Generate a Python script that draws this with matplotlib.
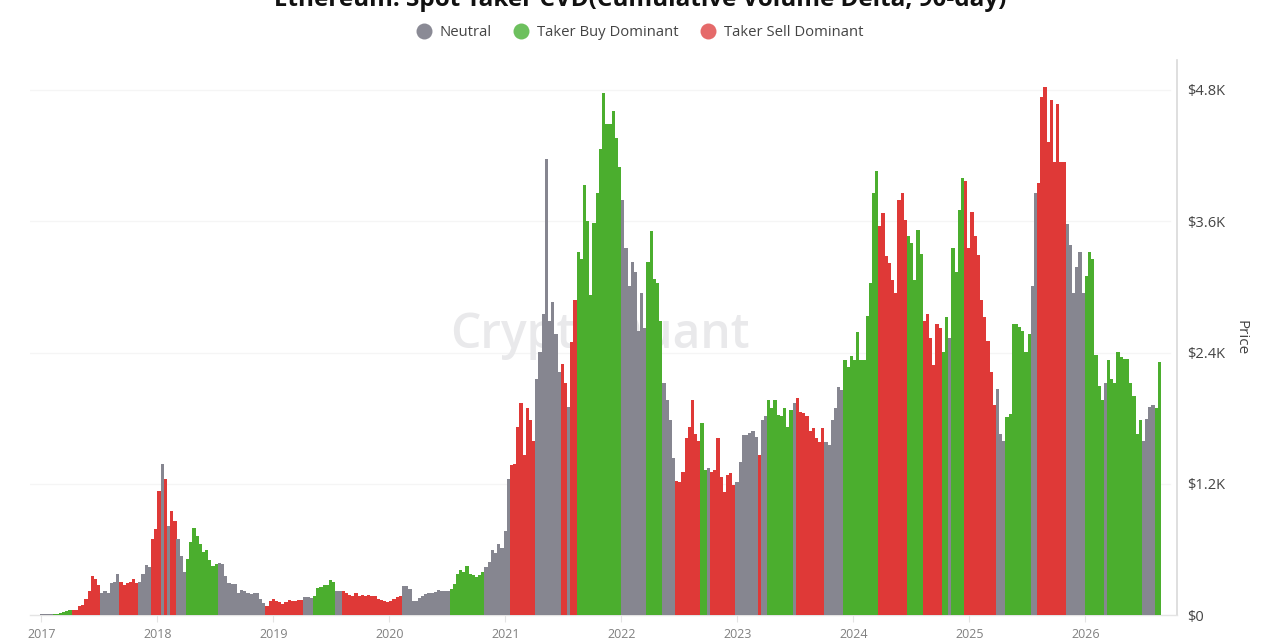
import matplotlib
matplotlib.use("Agg")
import matplotlib.pyplot as plt
from matplotlib.lines import Line2D
import numpy as np

plt.rcParams['font.family'] = ['Open Sans', 'DejaVu Sans']

TITLE = "Ethereum: Spot Taker CVD(Cumulative Volume Delta, 90-day)"
START_YEAR = 2017.0
STEP_DAYS = 10

prices = [
    8, 8, 9, 10, 11, 12, 15, 25, 40, 48, 45, 50, 85, 90, 145, 220, 360, 330, 270, 200,
    215, 200, 290, 300, 375, 305, 275, 295, 300, 325, 295, 300, 375, 460, 435, 695, 785, 1130, 1380, 1245,
    815, 955, 860, 695, 540, 390, 510, 665, 800, 725, 650, 575, 590, 500, 450, 465, 480, 465, 360, 295,
    285, 280, 200, 230, 220, 200, 190, 200, 205, 145, 110, 85, 130, 145, 125, 115, 100, 115, 135, 130,
    130, 135, 135, 165, 165, 155, 175, 250, 260, 270, 275, 320, 300, 220, 215, 220, 200, 185, 175, 205,
    175, 185, 175, 180, 175, 175, 145, 140, 125, 120, 130, 150, 165, 175, 265, 265, 240, 130, 130,
    157, 173, 189, 198, 198, 211, 230, 223, 223, 223, 242, 283, 378, 409, 393, 450, 378, 368, 346, 368,
    393, 440, 488, 598, 566, 645, 614, 771, 1243, 1369, 1385, 1715, 1936, 1464, 1889, 1779, 1590, 2156, 2408, 2755,
    4170, 2690, 2865, 2565, 2220, 2298, 2125, 1905, 2500, 2880, 3320, 3258, 3935, 3604, 2927, 3588, 3856, 4265, 4770, 4486,
    4486, 4612, 4360, 4092, 3793, 3352, 3006, 3226, 3132, 2597, 2943, 2628, 3226, 3510, 3069, 3037, 2691, 2125, 1967, 1779,
    1432, 1228, 1212, 1306, 1621, 1715, 1967, 1652, 1590,
    1754, 1327, 1342, 1311, 1327, 1616, 1266, 1128, 1281, 1296, 1190, 1220, 1403, 1647, 1647, 1662, 1678, 1632, 1464, 1784,
    1815, 1967, 1891, 1967, 1830, 1815, 1891, 1723, 1876, 1937, 1983, 1860, 1845, 1815, 1678, 1708, 1616, 1586, 1708, 1586,
    1555, 1784, 1891, 2089, 2059, 2333, 2272, 2364, 2333, 2592, 2333, 2333, 2730, 3035, 3858, 4056, 3553, 3675, 3279, 3218,
    3065, 2943, 3797, 3858, 3614, 3462, 3401, 3065, 3523,
    3305, 2692, 2755, 2534, 2282, 2660, 2628, 2408, 2723, 2534, 3353, 3132, 3699, 3998, 3967, 3353, 3683, 3463, 3290, 2880,
    2723, 2503, 2219, 1920, 2062, 1653, 1590, 1810, 1842, 2660, 2660, 2629, 2597, 2408, 2566, 3006, 3856, 3950, 4738, 4832,
    4328, 4706, 4140, 4675, 4140, 4140, 3573, 3384, 2943, 3179, 3321, 2943, 3100, 3321, 3258, 2377, 2093, 1968, 2125, 2330,
    2156, 2125, 2408, 2361, 2345, 2345, 2125, 1999, 1653, 1779, 1590, 1794, 1905, 1920, 1889, 2314,
]

regime_names = [
    'N', 'B', 'S', 'N', 'S', 'N', 'S', 'N', 'S', 'N', 'S', 'N', 'S', 'N', 'B', 'N', 'S', 'N', 'B', 'N',
    'S', 'N', 'S', 'N', 'B', 'N', 'S', 'N', 'S', 'N', 'S', 'N', 'S', 'N', 'S', 'N', 'B', 'N', 'B', 'N',
    'S', 'N', 'B', 'N', 'S', 'N', 'S', 'N', 'B', 'N', 'S', 'N', 'B', 'S', 'B', 'S', 'B', 'N', 'B', 'S',
    'N', 'B', 'N', 'S', 'N', 'B', 'N', 'B', 'N', 'B', 'N', 'B',
]
regime_ends = [
    2017.10, 2017.26, 2017.50, 2017.635, 2017.645, 2017.67, 2017.825, 2017.934, 2018.034, 2018.05,
    2018.07, 2018.10, 2018.158, 2018.24, 2018.517, 2018.93, 2019.256, 2019.33, 2019.537, 2019.586,
    2020.095, 2020.204, 2020.227, 2020.513, 2020.815, 2021.03, 2021.254, 2021.384, 2021.40, 2021.44,
    2021.453, 2021.466, 2021.54, 2021.562, 2021.60, 2021.622, 2022.007, 2022.211, 2022.364, 2022.466,
    2022.668, 2022.683, 2022.726, 2022.76, 2022.972, 2023.179, 2023.203, 2023.254, 2023.472, 2023.49,
    2023.737, 2023.918, 2024.214, 2024.464, 2024.588, 2024.76, 2024.817, 2024.832, 2024.967, 2025.214,
    2025.315, 2025.522, 2025.582, 2025.829, 2025.981, 2026.171, 2026.191, 2026.455, 2026.47, 2026.493,
    2026.585, 2026.70,
]

series_labels = {'N': 'Neutral', 'B': 'Taker Buy Dominant', 'S': 'Taker Sell Dominant'}
bar_colors = {'N': '#868690', 'B': '#4bae2e', 'S': '#df3937'}
legend_colors = {'N': '#8a8a95', 'B': '#6dc05e', 'S': '#e56a6a'}
year_ticks = list(range(2017, 2027))
price_ticks = [0, 1200, 2400, 3600, 4800]
price_labels = ['$0', '$1.2K', '$2.4K', '$3.6K', '$4.8K']

W, H = 1280, 640
fig = plt.figure(figsize=(W / 100, H / 100), dpi=100, facecolor='white')
L, R, T, B = 30, 1177, 60, 615
ax = fig.add_axes([L / W, 1 - B / H, (R - L) / W, (B - T) / H])

px_per_year = 116.0
ax.set_xlim(2017 - 11.5 / px_per_year, 2017 + (R - 41.5) / px_per_year)
ax.set_ylim(0, (B - T) / 131.25 * 1200)

step = STEP_DAYS / 365.25
x = START_YEAR + step * np.arange(len(prices))
idx = np.searchsorted(regime_ends, x, side='right')
idx = np.clip(idx, 0, len(regime_names) - 1)
colors = [bar_colors[regime_names[i]] for i in idx]
ax.bar(x, prices, width=step * 1.03, color=colors, linewidth=0, align='center', zorder=3)

for p in price_ticks[1:]:
    ax.plot([0, (1170 - L) / (R - L)], [p, p], transform=ax.get_yaxis_transform(),
            color='#f5f5f5', lw=1, zorder=1)

ax.text(600 / W, 1 - 335 / H, 'CryptoQuant', transform=fig.transFigure, ha='center', va='center',
        fontsize=34.5, color='#e9e9eb', fontweight='semibold', zorder=2, clip_on=False)

for s in ['top', 'left']:
    ax.spines[s].set_visible(False)
ax.spines['right'].set_color('#d9d9d9')
ax.spines['right'].set_linewidth(1.2)
ax.spines['bottom'].set_color('#e4e4e4')
ax.spines['bottom'].set_linewidth(1)

ax.yaxis.tick_right()
ax.set_yticks(price_ticks)
ax.set_yticklabels(price_labels, fontsize=10.5, color='#444444')
ax.tick_params(axis='y', length=0, pad=7)
ax.set_xticks(year_ticks)
ax.set_xticklabels([str(y) for y in year_ticks], fontsize=9, color='#808080')
ax.tick_params(axis='x', length=5, color='#e4e4e4', pad=4)

fig.text(1241 / W, 1 - 338 / H, 'Price', rotation=270, ha='center', va='center',
         fontsize=11, color='#444444')

fig.text(640 / W, 1 - 0 / H, TITLE, ha='center', va='center', fontsize=17.5,
         fontweight='bold', color='#111111')

handles = [Line2D([], [], linestyle='', marker='o', markersize=11.5,
                  markerfacecolor=legend_colors[k], markeredgewidth=0, label=series_labels[k])
           for k in ['N', 'B', 'S']]
fig.legend(handles=handles, loc='center', bbox_to_anchor=(0.5, 1 - 33 / H), ncols=3, frameon=False,
           fontsize=10.7, labelcolor='#444444', handlelength=1, handletextpad=0.55, columnspacing=1.5)

fig.savefig('out.png', dpi=100)
